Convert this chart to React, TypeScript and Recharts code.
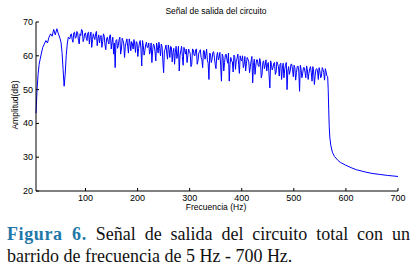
import React from "react";
import { LineChart, Line, XAxis, YAxis } from "recharts";

// onset of the sweep, incl. the 60 Hz notch
const riseHz = [5, 7, 9, 11, 13, 15, 18, 21, 24, 27, 30, 33, 36, 39, 42, 45, 48, 51, 53, 55, 57, 59, 61, 63, 65, 67];
const riseDb = [43, 50, 54.5, 57.5, 59, 60.5, 62.5, 63.5, 64.5, 63.8, 65.5, 66.5, 65.8, 67.8, 66.2, 68, 66.5, 65.2, 64, 61, 56, 51, 54.5, 60, 63.5, 65.5];

// noisy passband
const noiseHz = [
  70, 73, 76, 79, 82, 85, 88, 91, 94, 97,
  100, 103, 106, 109, 112, 115, 118, 121, 124, 127,
  130, 133, 136, 139, 142, 145, 148, 151, 154, 157,
  160, 163, 166, 169, 172, 175, 178, 181, 184, 187,
  190, 193, 196, 199, 202, 205, 208, 211, 214, 217,
  220, 223, 226, 229, 232, 235, 238, 241, 244, 247,
  250, 253, 256, 259, 262, 265, 268, 271, 274, 277,
  280, 283, 286, 289, 292, 295, 298, 301, 304, 307,
  310, 313, 316, 319, 322, 325, 328, 331, 334, 337,
  340, 343, 346, 349, 352, 355, 358, 361, 364, 367,
  370, 373, 376, 379, 382, 385, 388, 391, 394, 397,
  400, 403, 406, 409, 412, 415, 418, 421, 424, 427,
  430, 433, 436, 439, 442, 445, 448, 451, 454, 457,
  460, 463, 466, 469, 472, 475, 478, 481, 484, 487,
  490, 493, 496, 499, 502, 505, 508, 511, 514, 517,
  520, 523, 526, 529, 532, 535, 538, 541, 544, 547,
  550, 553, 556, 559, 562,
];
const noiseDb = [
  65, 66.5, 64, 67, 65.5, 66.8, 63.5, 66, 67.5, 65,
  66.8, 64.5, 67, 65.8, 62.5, 66.5, 64.8, 67.2, 65, 63.8,
  66, 64.2, 65.8, 61.8, 65.5, 63.5, 66.2, 64, 60.5, 56.5,
  64.8, 63, 65.5, 62, 64.5, 59.5, 64, 62.8, 65, 61.5,
  63.5, 64.8, 61, 63.8, 62.2, 64.5, 57, 63, 61.5, 64,
  62.5, 60.5, 63.8, 61.8, 63, 58.5, 62.5, 64, 60, 62.8,
  55, 62, 60.8, 63.2, 59.5, 62.5, 61, 57.5, 62.8, 60.5,
  55.5, 61.5, 59.8, 62.5, 60.5, 58, 62, 60.8, 57.5, 61.8,
  60, 62, 58.5, 61.2, 59.5, 56.5, 61.5, 60.2, 58.8, 53,
  60.5, 59, 61.2, 57.5, 60, 58.8, 61, 52.5, 59.8, 58,
  60.5, 57.8, 52.5, 59.5, 58.2, 60.2, 56, 59.2, 57.5, 60,
  58.5, 56.5, 59.8, 57.8, 59, 55, 58.5, 52, 59, 57,
  58.8, 56.8, 58.2, 54.5, 58.5, 57.2, 55.5, 58, 50.5, 57.5,
  56.5, 58, 55.2, 57.5, 54, 57.8, 56.2, 53.5, 57.2, 50,
  56.8, 55.5, 57.5, 53.8, 56.5, 55, 57, 49.5, 56, 54.8,
  56.5, 53.5, 55.8, 54.8, 56.8, 52.5, 55.5, 54.2, 56.2, 53,
  55.5, 54, 56, 52.8, 55.2,
];

// in-between readings of the same passband
const noiseMidHz = [
  71.5, 74.5, 77.5, 80.5, 83.5, 86.5, 89.5, 92.5, 95.5, 98.5,
  101.5, 104.5, 107.5, 110.5, 113.5, 116.5, 119.5, 122.5, 125.5, 128.5,
  131.5, 134.5, 137.5, 140.5, 143.5, 146.5, 149.5, 152.5, 155.5, 158.5,
  161.5, 164.5, 167.5, 170.5, 173.5, 176.5, 179.5, 182.5, 185.5, 188.5,
  191.5, 194.5, 197.5, 200.5, 203.5, 206.5, 209.5, 212.5, 215.5, 218.5,
  221.5, 224.5, 227.5, 230.5, 233.5, 236.5, 239.5, 242.5, 245.5, 248.5,
  251.5, 254.5, 257.5, 260.5, 263.5, 266.5, 269.5, 272.5, 275.5, 278.5,
  281.5, 284.5, 287.5, 290.5, 293.5, 296.5, 299.5, 302.5, 305.5, 308.5,
  311.5, 314.5, 317.5, 320.5, 323.5, 326.5, 329.5, 332.5, 335.5, 338.5,
  341.5, 344.5, 347.5, 350.5, 353.5, 356.5, 359.5, 362.5, 365.5, 368.5,
  371.5, 374.5, 377.5, 380.5, 383.5, 386.5, 389.5, 392.5, 395.5, 398.5,
  401.5, 404.5, 407.5, 410.5, 413.5, 416.5, 419.5, 422.5, 425.5, 428.5,
  431.5, 434.5, 437.5, 440.5, 443.5, 446.5, 449.5, 452.5, 455.5, 458.5,
  461.5, 464.5, 467.5, 470.5, 473.5, 476.5, 479.5, 482.5, 485.5, 488.5,
  491.5, 494.5, 497.5, 500.5, 503.5, 506.5, 509.5, 512.5, 515.5, 518.5,
  521.5, 524.5, 527.5, 530.5, 533.5, 536.5, 539.5, 542.5, 545.5, 548.5,
  551.5, 554.5, 557.5, 560.5, 563.5,
];
const noiseMidDb = [
  66.2, 64.8, 66.8, 65.2, 67.2, 64.5, 66.5, 67.8, 64.2, 66.5,
  65.2, 66.8, 63.5, 67, 64.8, 65.5, 66.5, 63, 66.2, 65.5,
  62.5, 66.5, 63.2, 65, 64.2, 66, 62, 65.5, 63.8, 64.5,
  62.2, 64.8, 60.5, 65.2, 63.5, 62.8, 65, 60.8, 63.8, 64.2,
  62, 63.5, 64.2, 59.8, 63.8, 62, 64.5, 60.2, 63.2, 62.5,
  63.8, 61.5, 58, 63.5, 61.2, 63.8, 60.8, 62.2, 63.5, 58.5,
  61.5, 63.2, 59, 61.8, 62.8, 58.2, 62.2, 61, 59.2, 62.8,
  60.2, 62.8, 57.2, 61.5, 62, 60, 61.2, 56.8, 62, 60.2,
  61.8, 57.5, 60.8, 61.8, 58.8, 61.5, 59, 62, 57.8, 60.8,
  58, 61, 59.5, 56.2, 61, 59.5, 57.2, 60.5, 55.5, 60.2,
  59, 60.8, 57.5, 58.5, 55.2, 59.8, 58.8, 60.5, 54.8, 58.8,
  60, 57.5, 55.5, 59.5, 58.2, 56.8, 59.8, 57.2, 54.5, 58.8,
  57.2, 59.2, 53.5, 58, 56.2, 58.8, 57.5, 54.2, 58.5, 55.8,
  57.8, 54.5, 58.2, 56.8, 57.5, 53, 57.8, 56, 58, 55.5,
  54.5, 57.5, 56, 57.2, 52.8, 56.8, 55.5, 57.2, 53.5, 56.5,
  55.2, 57, 53, 56.2, 55, 56.8, 51.5, 56, 55.5, 56.5,
  53.5, 56.5, 55, 56.2, 54,
];

// cutoff and roll-off
const rolloffHz = [565, 566, 567, 568, 569, 571, 574, 578, 585, 590, 600, 610, 620, 635, 650, 665, 680, 700];
const rolloffDb = [53.8, 50, 44, 39, 36, 33.5, 31.5, 30.2, 29, 28.4, 27.6, 26.9, 26.3, 25.7, 25.2, 24.9, 24.6, 24.3];

const xTicks = [100, 200, 300, 400, 500, 600, 700];
const yTicks = [20, 30, 40, 50, 60, 70];

const data = [
  ...riseHz.map((hz, i) => ({ hz, db: riseDb[i] })),
  ...noiseHz.map((hz, i) => ({ hz, db: noiseDb[i] })),
  ...noiseMidHz.map((hz, i) => ({ hz, db: noiseMidDb[i] })),
  ...rolloffHz.map((hz, i) => ({ hz, db: rolloffDb[i] })),
].sort((a, b) => a.hz - b.hz);

const FONT = "'Liberation Sans', Arial, sans-serif";

const BottomTick = (p: any) => (
  <g>
    <line x1={p.x} x2={p.x} y1={p.y} y2={p.y - 3} stroke="#000" />
    <text x={p.x} y={p.y + 10} textAnchor="middle" fontSize={9} fontFamily={FONT} fill="#000">
      {p.payload.value}
    </text>
  </g>
);
const TopTick = (p: any) => <line x1={p.x} x2={p.x} y1={p.y} y2={p.y + 3} stroke="#000" />;
const LeftTick = (p: any) => (
  <g>
    <line x1={p.x} x2={p.x + 3} y1={p.y} y2={p.y} stroke="#000" />
    <text x={p.x - 3} y={p.y + 3} textAnchor="end" fontSize={9} fontFamily={FONT} fill="#000">
      {p.payload.value}
    </text>
  </g>
);
const RightTick = (p: any) => <line x1={p.x} x2={p.x - 3} y1={p.y} y2={p.y} stroke="#000" />;

export default function App() {
  return (
    <div style={{ position: "absolute", left: 0, top: 0, width: 416, height: 274, background: "#fff" }}>
      <LineChart width={416} height={215} data={data} margin={{ top: 22, right: 18, bottom: 0, left: 6 }}>
        <XAxis
          dataKey="hz"
          type="number"
          domain={[5, 700]}
          ticks={xTicks}
          interval={0}
          height={24}
          tickSize={0}
          tickMargin={0}
          tickLine={false}
          tick={BottomTick}
          axisLine={{ stroke: "#000" }}
        />
        <XAxis
          xAxisId="top"
          orientation="top"
          dataKey="hz"
          type="number"
          domain={[5, 700]}
          ticks={xTicks}
          interval={0}
          height={0}
          tickSize={0}
          tickMargin={0}
          tickLine={false}
          tick={TopTick}
          axisLine={{ stroke: "#000" }}
        />
        <YAxis
          domain={[20, 70]}
          ticks={yTicks}
          interval={0}
          width={30}
          tickSize={0}
          tickMargin={0}
          tickLine={false}
          tick={LeftTick}
          axisLine={{ stroke: "#000" }}
        />
        <YAxis
          yAxisId="right"
          orientation="right"
          domain={[20, 70]}
          ticks={yTicks}
          interval={0}
          width={0}
          tickSize={0}
          tickMargin={0}
          tickLine={false}
          tick={RightTick}
          axisLine={{ stroke: "#000" }}
        />
        <Line
          dataKey="db"
          type="linear"
          stroke="#0000ff"
          strokeWidth={1}
          dot={false}
          isAnimationActive={false}
        />
      </LineChart>

      <div style={{ position: "absolute", left: 0, width: 432, top: 6, textAlign: "center", fontFamily: FONT, fontSize: 8.5 }}>
        Señal de salida del circuito
      </div>
      <div style={{ position: "absolute", left: 0, width: 432, top: 202, textAlign: "center", fontFamily: FONT, fontSize: 8.5 }}>
        Frecuencia (Hz)
      </div>
      <div
        style={{
          position: "absolute",
          left: 15,
          top: 105,
          transform: "translate(-50%, -50%) rotate(-90deg)",
          whiteSpace: "nowrap",
          fontFamily: FONT,
          fontSize: 8.5,
        }}
      >
        Amplitud(dB)
      </div>

      <div
        style={{
          position: "absolute",
          left: 7,
          width: 403,
          top: 223,
          fontFamily: "'Liberation Serif', 'Times New Roman', serif",
          fontSize: 18,
          lineHeight: "22px",
          color: "#111",
        }}
      >
        <div style={{ textAlign: "justify", textAlignLast: "justify", whiteSpace: "nowrap" }}>
          <span style={{ color: "#1f78a8", fontWeight: "bold", letterSpacing: 0.6 }}>Figura 6.</span>
          {"  "}Señal de salida del circuito total con un
        </div>
        <div>barrido de frecuencia de 5 Hz - 700 Hz.</div>
      </div>
    </div>
  );
}
